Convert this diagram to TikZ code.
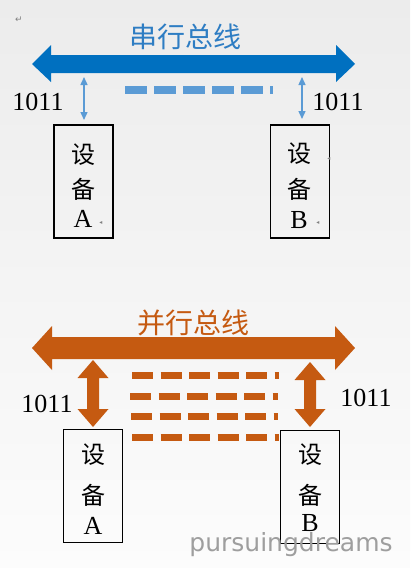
\documentclass[tikz,border=0pt]{standalone}
\usepackage{fontspec}
\setmainfont{Liberation Serif}
\newfontfamily\cjk{Noto Sans CJK SC}
\newfontfamily\dejavu{DejaVu Sans}
\usetikzlibrary{arrows.meta}
\definecolor{busblue}{RGB}{0,112,192}
\definecolor{titleblue}{RGB}{46,125,195}
\definecolor{lineblue}{RGB}{91,155,213}
\definecolor{busorange}{RGB}{197,90,17}
\definecolor{bgtop}{RGB}{236,236,236}
\definecolor{bgbot}{RGB}{252,252,252}
\tikzset{
  devbox/.style={draw=black,line width=1.3pt,minimum width=59pt,minimum height=113pt,inner sep=0pt},
  devtext/.style={font=\cjk\fontsize{24}{24}\selectfont,inner sep=0pt},
  devletter/.style={font=\fontsize{26}{26}\selectfont,inner sep=0pt},
  numlabel/.style={font=\fontsize{26}{26}\selectfont,inner sep=0pt},
  bustitle/.style={font=\cjk\fontsize{28}{28}\selectfont,inner sep=0pt},
  wordmark/.style={font=\dejavu\fontsize{6}{6}\selectfont,text=gray,inner sep=0pt},
  thinarrow/.style={lineblue,line width=1.4pt,{Triangle[width=7pt,length=8pt]}-{Triangle[width=7pt,length=8pt]}},
  bluedash/.style={lineblue,line width=8pt,dash pattern=on 22pt off 7pt},
  orangedash/.style={busorange,line width=7pt,dash pattern=on 21pt off 7.5pt},
}
\begin{document}
\begin{tikzpicture}[x=1pt,y=-1pt]
\useasboundingbox (0,0) rectangle (410,568);
\shade[top color=bgtop,bottom color=bgbot] (0,0) rectangle (410,568);

% ---------- serial bus ----------
\node[wordmark,font=\dejavu\fontsize{9}{9}\selectfont] (ret) at (19,20) {↵};
\node[bustitle,text=titleblue] (stitle) at (185,37) {串行总线};
\fill[busblue] (32,64) -- (51,45) -- (51,55) -- (336,55) -- (336,45) -- (355,64)
  -- (336,82) -- (336,73) -- (51,73) -- (51,82) -- cycle;
\coordinate (sbusA) at (84,77);
\coordinate (sbusB) at (302,77);

\node[devbox] (sA) at (83.5,181.5) {};
\node[devtext] (sA1) at (83,155) {设};
\node[devtext] (sA2) at (83,189) {备};
\node[devletter] (sA3) at (83,219) {A};
\node[wordmark] (mA) at (101,223) {◂};

\node[devbox] (sB) at (300,181.5) {};
\node[devtext] (sB1) at (299,154) {设};
\node[devtext] (sB2) at (299,189) {备};
\node[devletter] (sB3) at (299,220) {B};
\node[wordmark] (mB1) at (318,223) {◂};
\node[wordmark] (mB2) at (329,159) {◂};

\coordinate (sAt) at (84,120);
\coordinate (sBt) at (302,119);
\draw[thinarrow] (sbusA) -- (sAt);
\draw[thinarrow] (sbusB) -- (sBt);

\node[numlabel] (sn1) at (38,102) {1011};
\node[numlabel] (sn2) at (338,102) {1011};

\coordinate (sd1) at (125,90);
\coordinate (sd2) at (273,90);
\draw[bluedash] (sd1) -- (sd2);

% ---------- parallel bus ----------
\fill[busorange] (32,348) -- (52,326) -- (52,337) -- (335,337) -- (335,326) -- (355,348)
  -- (335,370) -- (335,359) -- (52,359) -- (52,370) -- cycle;
\node[bustitle,text=busorange] (ptitle) at (193,323) {并行总线};

\fill[busorange] (93,360) -- (108.5,378) -- (99,378) -- (99,409) -- (108.5,409) -- (93,427)
  -- (77.5,409) -- (87,409) -- (87,378) -- (77.5,378) -- cycle;
\fill[busorange] (310,362) -- (325.5,380) -- (316,380) -- (316,409) -- (325.5,409) -- (310,427)
  -- (294.5,409) -- (304,409) -- (304,380) -- (294.5,380) -- cycle;

\node[numlabel] (pn1) at (47,404) {1011};
\node[numlabel] (pn2) at (366,398) {1011};

\foreach \y/\s/\e in {375/132/279,396/130/278,416/131/278,437/132/279}{
  \coordinate (pdA\y) at (\s,\y);
  \coordinate (pdB\y) at (\e,\y);
  \draw[orangedash] (pdA\y) -- (pdB\y);
}

\node[devbox] (pA) at (93,486) {};
\node[devtext] (pA1) at (93,455) {设};
\node[devtext] (pA2) at (93,495) {备};
\node[devletter] (pA3) at (93,526) {A};

\node[devbox] (pB) at (310,487) {};
\node[devtext] (pB1) at (310,455) {设};
\node[devtext] (pB2) at (310,495) {备};
\node[devletter] (pB3) at (310,523) {B};

\node[font=\dejavu\fontsize{25}{25}\selectfont,text=black!38,inner sep=0pt] (wm) at (291,545) {pursuingdreams};
\end{tikzpicture}
\end{document}
